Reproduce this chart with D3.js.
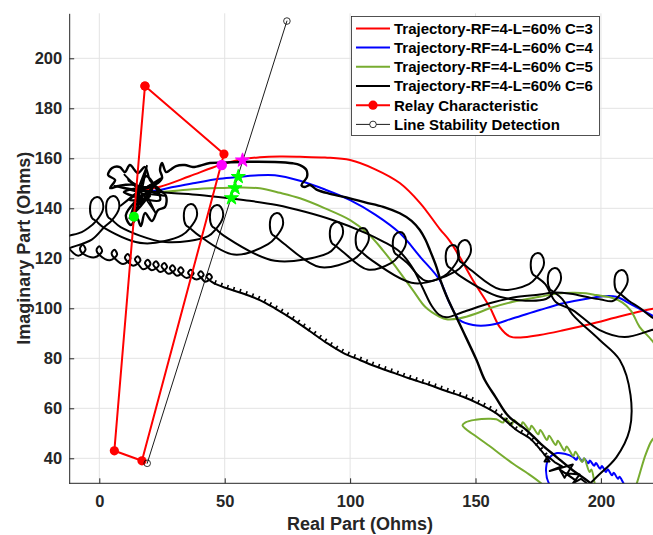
<!DOCTYPE html>
<html>
<head>
<meta charset="utf-8">
<script src="https://cdn.jsdelivr.net/npm/d3@7"></script>
<style>
  body { margin: 0; background: #fff; }
  text { font-family: Arial, "Liberation Sans", Helvetica, sans-serif; }
</style>
</head>
<body>
<svg id="chart" width="653" height="535"></svg>
<script>
// ---- axes ----
const xDomain = [-12, 220];
const yDomain = [30, 218];
const xTicks = [0, 50, 100, 150, 200];
const yTicks = [40, 60, 80, 100, 120, 140, 160, 180, 200];

// ---- impedance trajectories (real, imaginary) in ohms ----
const trajC3 = [[16,147],[24.2,148.6],[36,152.8],[48.1,157.3],[57.4,159.7],[64,160.4],[72,160.7],[80,160.6],[90,160.3],[100,159.3],[110,155.6],[119.8,150.1],[128,142],[135.7,131.8],[139.7,127],[144,120],[148.9,111.3],[155.6,100.6],[159.6,92.6],[163.6,88.8],[168,88.3],[175.6,89.3],[185,91.2],[195.5,93.6],[208.6,97],[220.2,99.7],[228,100.5]];

const trajC4 = [[16,147],[22,147],[30,148.6],[37.4,150],[48,151.8],[56,152.6],[62,153.1],[70,153.2],[80,151],[90,147.5],[100,143.3],[110,137.5],[119.8,130.1],[128,120.5],[135.7,111.3],[139.7,102],[143.7,95.3],[149,93.3],[155.7,93.3],[165,96],[175.6,99.3],[185,102],[195.5,104],[201,104.8],[206.1,104.6],[212.6,101.3],[220.2,97.3],[228,93],[238,82],[241,45],[228,22],[192,19],[179.6,29.3],[178.3,37.5],[180,40.8],[182.5,42.1],[185.5,41.8],[188.8,40.6],[190.2,39.4],[190.9,40.7],[192.6,38.7],[193.3,39.9],[195,38],[195.6,39.1],[197.3,37],[198,38.1],[199.7,35.8],[200.4,36.9],[202,34.5],[202.7,35.6],[204.4,33.2],[205.1,34.2],[206.8,31.8],[207.4,32.6],[209,30],[211,26.5]];

const trajC5 = [[16,147],[24.3,146.5],[37,147.6],[48.1,148.1],[56,148.3],[64,148],[72,146.2],[80,144],[90,140],[100,135.3],[107,130],[113,123.3],[119,115.5],[125,107.3],[130,100.5],[135.7,96.6],[138.4,95.6],[143.7,96],[150,97.8],[155.6,100],[165,102.6],[175.6,104.6],[182,105.8],[188.8,106.2],[194,106],[198.2,105.3],[204,104.3],[208.6,102.3],[212,99],[215.4,92.6],[220.2,87.3],[226,79],[231,66],[231,55],[226,50],[221,48],[218,42],[214.3,30],[212,24],[200,18],[185,20],[176.9,29.3],[170,34.5],[165,37.8],[155,45.3],[149,49.6],[146,51.8],[144.8,53.2],[146,54.4],[150,55.4],[155,55.8],[158.3,55.6],[161,54.3],[161.8,56],[164.5,53.6],[165.3,55.3],[168,52.7],[168.8,54.4],[171.5,51.3],[172.3,53],[175,49.6],[175.8,51.3],[178.5,47.3],[179.3,49],[182,45.3],[182.8,47],[185.5,43],[186.3,44.7],[189,40.9],[189.8,42.6],[192.5,38.5],[193.3,40],[195.5,34.5],[196.2,35.5],[197.5,30],[198.5,26]];

const trajC6 = [[16,147],[22,146.6],[30,146],[40,145.3],[52.7,143.9],[60,143],[70.7,141.3],[82,138.6],[93,135.3],[106.5,130],[113,126.8],[119.8,122.6],[125,116],[129,108],[132.5,101],[135.5,97.4],[138.4,96.4],[145,98.5],[155.6,102],[165,104.3],[175.6,105.5],[181,106.3],[188,105.8],[195,104.4],[200,103.5],
  [204.7,102.9],[207.8,105.7],[210.6,110.5],[209.8,114.5],[208.2,115.3],[206.2,114.1],[205.4,110.5],[206.2,106.9],[207.8,105.7],[211.2,102.9],
  [215.4,100.2],[220.2,96.5],[227.4,92.5]];

// C=6 run that leaves the fault cluster and drops steeply
const trajC6Burst = [[16.5,147],[10,153.5],[18,145],[24.5,152],[15,146],[8.5,141],[17.5,148.5],[22.5,138],[16,147.5],[12,136],[17,146],[26,145],[15.5,148],[19,157],[16.8,146.2],[6,149],[17,147]];
const trajC6Main = [[16.6,147.3],[11.4,151.3],[20.2,144.9],[12.2,143.3],[22.2,150.1],[15.4,141.3],[18.6,152.9],[24.2,143.3],[9.8,146.5],[21,148.1],[14.2,138.5],[17.4,145.3],[10.6,137.3],[12.6,133.3],[15,136.1],[16.6,132.9],[18.2,138.1],[21,134.9],[23.4,139.3],[26.2,140.5],[26.6,144.9],[24.2,147.3],[20.2,151.3],[18.2,156.5],[15.4,154.1],[12.2,157.3],[10.2,154.5],[8.2,156.5],[5.1,156.1],[3.5,153.3],[6.3,151.3],[4.3,148.1],[7.5,148.9],[13,149.5],[19,148],[25,152],[24.2,155.3],[25,158.1],[26.6,154.5],[28.2,155.3],[30.6,156.9],[34.1,157.3],[37.3,156.5],[44.1,158.1],[50,158.3],[60,158.6],[70,158.5],[77,158],[80,157.3],[82.5,155.5],[82.8,152.5],[80.6,149.2],[82,148.5],[84,149.3],[86.6,147.5],[92,145.8],[99.9,144],[106,142.4],[113.2,140.6],[119.8,138],[124.5,135],[127.8,131.3],[130,127.5],[131.8,123.3],[134.4,116.6],[136,111.3],[138.4,105],[144,93],[150.4,79.3],[153.7,71.3],[158,64.5],[163,57],[170.3,51.3],[176,45.8],[182.2,40.6],[188,35.8],[194.2,31.3],[198,28.5]];

// C=6 runs with power-swing loops
const trajC6LoopA = [[-15.7,128],[-12.1,129],[-7,130.5],
  [-4.4,132.1],[-1.3,134.9],[1.5,139.7],[0.7,143.7],[-0.9,144.5],[-2.9,143.3],[-3.7,139.7],[-2.9,136.1],[-1.3,134.9],[2.1,132.1],
  [17.8,126],
  [33,129.3],[36.1,132.1],[38.9,136.9],[38.1,140.9],[36.5,141.7],[34.5,140.5],[33.7,136.9],[34.5,133.3],[36.1,132.1],[39.5,129.3],
  [53.7,121.5],
  [67.3,125.7],[70.4,128.5],[73.2,133.3],[72.4,137.3],[70.8,138.1],[68.8,136.9],[68,133.3],[68.8,129.7],[70.4,128.5],[73.8,125.7],
  [87.9,116.5],
  [101.5,119.7],[104.6,122.5],[107.4,127.3],[106.6,131.3],[105,132.1],[103,130.9],[102.2,127.3],[103,123.7],[104.6,122.5],[108,119.7],
  [125.8,110],
  [142.2,114.9],[145.3,117.7],[148.1,122.5],[147.3,126.5],[145.7,127.3],[143.7,126.1],[142.9,122.5],[143.7,118.9],[145.3,117.7],[148.7,114.9],
  [160,107.5],
  [171.3,109.7],[174.4,112.5],[177.2,117.3],[176.4,121.3],[174.8,122.1],[172.8,120.9],[172,117.3],[172.8,113.7],[174.4,112.5],[177.8,109.7],
  [182,102.5],[188.7,99.3],[199.5,91.3],[209.4,88.5],[220.2,91.3],[231.4,95.3]];

const trajC6LoopB = [[-15.7,122.5],[-12.1,124],[-3,127.5],
  [2,132.5],[5.1,135.3],[7.9,140.1],[7.1,144.1],[5.5,144.9],[3.5,143.7],[2.7,140.1],[3.5,136.5],[5.1,135.3],[8.5,132.5],
  [26.2,126.5],
  [43.4,128.9],[46.5,131.7],[49.3,136.5],[48.5,140.5],[46.9,141.3],[44.9,140.1],[44.1,136.5],[44.9,132.9],[46.5,131.7],[49.9,128.9],
  [70,119],
  [91.2,122.1],[94.3,124.9],[97.1,129.7],[96.3,133.7],[94.7,134.5],[92.7,133.3],[91.9,129.7],[92.7,126.1],[94.3,124.9],[97.7,122.1],
  [107,115.5],
  [116.3,118.1],[119.4,120.9],[122.2,125.7],[121.4,129.7],[119.8,130.5],[117.8,129.3],[117,125.7],[117.8,122.1],[119.4,120.9],[122.8,118.1],
  [130,111],
  [137.4,112.9],[140.5,115.7],[143.3,120.5],[142.5,124.5],[140.9,125.3],[138.9,124.1],[138.1,120.5],[138.9,116.9],[140.5,115.7],[143.9,112.9],
  [160,104.5],
  [178.1,103.7],[181.2,106.5],[184,111.3],[183.2,115.3],[181.6,116.1],[179.6,114.9],[178.8,111.3],[179.6,107.7],[181.2,106.5],[184.6,103.7],
  [188.7,97.5],[199.5,87.3],[207.5,79.3],[211.8,65.3],[211.4,51.3],[206.2,40.5],[198.3,32.5],[192.3,26.5]];

// C=6 run with small curls along the lower edge
const trajC6CurlHead = [[-13,125],
  [-8.4,121.0],[-5.5,123.4],[-6.6,125.4],[-7.7,123.9],[-6.3,121.7],
  [-1.8,120.4],[1.1,122.8],[0,124.8],[-1.1,123.3],[0.3,121.1],
  [4.2,119.2],[7.1,121.5],[6,123.4],[4.9,121.9],[6.3,119.8],
  [9.5,117.7],[12.4,119.9],[11.3,121.7],[10.2,120.3],[11.6,118.3],
  [13.5,117],[16.4,119.1],[15.3,120.8],[14.2,119.5],[15.6,117.6],
  [17.5,115.6],[20.4,117.7],[19.3,119.4],[18.2,118.1],[19.6,116.2],
  [20.9,115.2],[23.7,117.2],[22.6,118.8],[21.5,117.5],[22.9,115.7],
  [24.3,114.5],[27,116.5],[25.9,118.1],[24.8,116.8],[26.2,115],
  [27.6,113.8],[30.3,115.7],[29.2,117.2],[28.1,116],[29.5,114.3],
  [30.9,113],[33.6,114.9],[32.5,116.4],[31.4,115.2],[32.8,113.5],
  [34.8,112.1],[37.6,113.9],[36.5,115.4],[35.4,114.2],[36.8,112.6],
  [38.8,111.5],[41.6,113.3],[40.5,114.8],[39.4,113.6],[40.8,112],
  [42.2,110.6],[44.9,112.4],[43.8,113.8],[42.7,112.7],[44.1,111.1],
  [46,109.9]];
const trajC6CurlTail = [[46,109.9],[50.8,108],[57,106],[64,103.3],[70,100],[77.3,95.5],[84,90.8],[90.6,86.2],[97,82.3],[103.9,79.3],[110,76.8],[117,74.3],[124,71.8],[131.7,69.3],[138,67],[145,64.6],[152,61.5],[158.3,58],[162,55],[166.3,51.3],[171.6,48],[175,44.5],[178.2,40.6]];
const trajC6CurlEnd = [[178.2,40.6],[179.5,38.7],[177.5,38.7],[178.8,40.8],[181.5,38.5],[184.5,36.8],[179.6,34.9],[188.8,37.5],[185.5,32.2],[183.5,35.6],[189.5,31.5],[186,34],[191.5,33.5],[188.8,30],[192,31.8],[194.2,30.1],[196,28.5]];

// ---- relay characteristic and line stability detection ----
const relayZone = [[18.2,188.9],[49.7,161.7],[17,39],[6,43],[18.2,188.9]];
const stabilityLine = [[19.1,38],[74.8,214.9]];
const tripStarMagenta = [[57.1,159.2]];
const tripStarsGreen = [[55.4,152.6],[54.1,148.1],[52.7,144.1]];
const relayEntryMagenta = [[48.8,157.3]];
const relayEntryGreen = [[13.8,136.6]];

const legendLabels = [
  "Trajectory-RF=4-L=60% C=3",
  "Trajectory-RF=4-L=60% C=4",
  "Trajectory-RF=4-L=60% C=5",
  "Trajectory-RF=4-L=60% C=6",
  "Relay Characteristic",
  "Line Stability Detection"
];
const legendColors = ["#ff0000", "#0000ff", "#77ac30", "#000000", "#ff0000", "#000000"];

// ---- drawing ----
const svg = d3.select("#chart");
const axisColor = "#262626";
const x = d3.scaleLinear().domain(xDomain).range([69.2, 651.1]);
const y = d3.scaleLinear().domain(yDomain).range([483.3, 13.3]);

// grid
const grid = svg.append("g");
grid.selectAll("line.gx").data(xTicks).join("line")
  .attr("x1", d => x(d)).attr("x2", d => x(d))
  .attr("y1", y(yDomain[0])).attr("y2", y(yDomain[1]))
  .attr("stroke", "#e3e3e3").attr("stroke-width", 1);
grid.selectAll("line.gy").data(yTicks).join("line")
  .attr("x1", x(xDomain[0])).attr("x2", 653)
  .attr("y1", d => y(d)).attr("y2", d => y(d))
  .attr("stroke", "#e3e3e3").attr("stroke-width", 1);

svg.append("clipPath").attr("id", "plotClip").append("rect")
  .attr("x", x(xDomain[0])).attr("y", y(yDomain[1]))
  .attr("width", 653 - x(xDomain[0])).attr("height", y(yDomain[0]) - y(yDomain[1]));

const plot = svg.append("g").attr("clip-path", "url(#plotClip)");

const smooth = d3.line().x(d => x(d[0])).y(d => y(d[1])).curve(d3.curveCatmullRom.alpha(0.5));
const straight = d3.line().x(d => x(d[0])).y(d => y(d[1]));

function draw(data, color, width, gen) {
  return plot.append("path").attr("d", (gen || smooth)(data))
    .attr("fill", "none").attr("stroke", color).attr("stroke-width", width)
    .attr("stroke-linejoin", "round").attr("stroke-linecap", "round");
}

draw(trajC3, "#ff0000", 2);
draw(trajC4, "#0000ff", 2);
draw(trajC5, "#77ac30", 2);
draw(trajC6, "#000000", 2);
draw(trajC6LoopA, "#000000", 2);
draw(trajC6LoopB, "#000000", 2);
draw(trajC6CurlHead, "#000000", 2);
draw(trajC6CurlTail, "#000000", 2);
// fine curls along the tail
draw(trajC6CurlTail, "#000000", 4.2)
  .attr("stroke-linecap", "butt")
  .attr("stroke-dasharray", "1.6 5")
  .attr("transform", "translate(0,-1.6)");
draw(trajC6CurlEnd, "#000000", 2, straight);
draw(trajC6Burst, "#000000", 1.8, straight);
draw(trajC6Main, "#000000", 2.4);

// relay characteristic
draw(relayZone, "#ff0000", 2, straight);
plot.append("g").selectAll("circle").data(relayZone).join("circle")
  .attr("cx", d => x(d[0])).attr("cy", d => y(d[1])).attr("r", 4.6)
  .attr("fill", "#ff0000");

// line stability detection
draw(stabilityLine, "#000000", 0.9, straight);
plot.append("g").selectAll("circle").data(stabilityLine).join("circle")
  .attr("cx", d => x(d[0])).attr("cy", d => y(d[1])).attr("r", 3.3)
  .attr("fill", "none").attr("stroke", "#000").attr("stroke-width", 0.8);

// entry markers
plot.append("g").selectAll("circle").data(relayEntryMagenta).join("circle")
  .attr("cx", d => x(d[0])).attr("cy", d => y(d[1])).attr("r", 5.3).attr("fill", "#ff00ff");
plot.append("g").selectAll("circle").data(relayEntryGreen).join("circle")
  .attr("cx", d => x(d[0])).attr("cy", d => y(d[1])).attr("r", 5).attr("fill", "#00ff00");

const star = d3.symbol(d3.symbolStar, 62);
plot.append("g").selectAll("path").data(tripStarMagenta).join("path")
  .attr("d", star).attr("transform", d => `translate(${x(d[0])},${y(d[1])})`)
  .attr("fill", "#ff00ff").attr("stroke", "#ff00ff").attr("stroke-width", 1);
plot.append("g").selectAll("path").data(tripStarsGreen).join("path")
  .attr("d", star).attr("transform", d => `translate(${x(d[0])},${y(d[1])})`)
  .attr("fill", "#00ff00").attr("stroke", "#00ff00").attr("stroke-width", 1);

// axes
const xAxis = d3.axisBottom(x).tickValues(xTicks).tickSizeInner(-5).tickSizeOuter(0).tickPadding(12);
const yAxis = d3.axisLeft(y).tickValues(yTicks).tickSizeInner(-5).tickSizeOuter(0).tickPadding(7);

const gx = svg.append("g").attr("transform", `translate(0,${y(yDomain[0])})`).call(xAxis);
const gy = svg.append("g").attr("transform", `translate(${x(xDomain[0])},0)`).call(yAxis);
gx.select(".domain").attr("d", `M${x(xDomain[0])},0H653`);
[gx, gy].forEach(g => {
  g.select(".domain").attr("stroke", axisColor);
  g.selectAll(".tick line").attr("stroke", axisColor);
  g.selectAll(".tick text").attr("fill", axisColor)
    .style("font-size", "16.5px").style("font-weight", "bold")
    .style("font-family", "Arial, 'Liberation Sans', sans-serif");
});

svg.append("text").attr("x", 360).attr("y", 530).attr("text-anchor", "middle")
  .attr("fill", axisColor).style("font-size", "18px").style("font-weight", "bold")
  .text("Real Part (Ohms)");
svg.append("text").attr("transform", "translate(30,248.3) rotate(-90)").attr("text-anchor", "middle")
  .attr("fill", axisColor).style("font-size", "18px").style("font-weight", "bold")
  .text("Imaginary Part (Ohms)");

// legend
const legend = svg.append("g");
legend.append("rect").attr("x", 351.5).attr("y", 16.5).attr("width", 248).attr("height", 119)
  .attr("fill", "#fff").attr("stroke", axisColor).attr("stroke-width", 0.8);
const rows = legend.selectAll("g.row").data(legendLabels).join("g")
  .attr("transform", (d, i) => `translate(0,${28.4 + i * 19.2})`);
rows.append("line").attr("x1", 356).attr("x2", 390).attr("y1", 0).attr("y2", 0)
  .attr("stroke", (d, i) => legendColors[i]).attr("stroke-width", (d, i) => i === 5 ? 0.9 : 2);
rows.filter((d, i) => i === 4).append("circle").attr("cx", 373).attr("cy", 0).attr("r", 4.6).attr("fill", "#ff0000");
rows.filter((d, i) => i === 5).append("circle").attr("cx", 373).attr("cy", 0).attr("r", 3.3)
  .attr("fill", "#fff").attr("stroke", "#000").attr("stroke-width", 0.8);
rows.append("text").attr("x", 394).attr("y", 0).attr("dy", "0.36em")
  .attr("fill", "#000").style("font-size", "15px").style("font-weight", "bold")
  .text(d => d);
</script>
</body>
</html>
